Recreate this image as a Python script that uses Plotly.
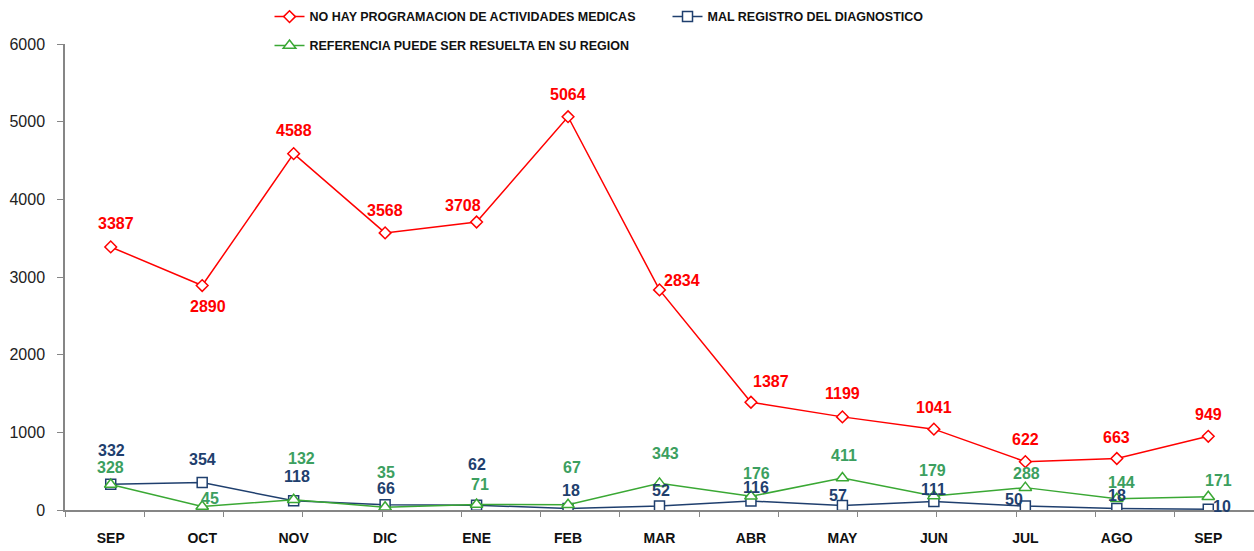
import plotly.graph_objects as go

months = ["SEP", "OCT", "NOV", "DIC", "ENE", "FEB", "MAR", "ABR", "MAY", "JUN", "JUL", "AGO", "SEP"]
red_name = "NO HAY PROGRAMACION DE ACTIVIDADES MEDICAS"
blue_name = "MAL REGISTRO DEL DIAGNOSTICO"
green_name = "REFERENCIA PUEDE SER RESUELTA EN SU REGION"
red_vals = [3387, 2890, 4588, 3568, 3708, 5064, 2834, 1387, 1199, 1041, 622, 663, 949]
blue_vals = [332, 354, 118, 66, 62, 18, 52, 116, 57, 111, 50, 18, 10]
green_vals = [328, 45, 132, 35, 71, 67, 343, 176, 411, 179, 288, 144, 171]

# label offsets (xshift, yshift) in px
red_off = [(5, 23), (6, -21), (0, 23), (0, 22), (-14, 17), (0, 22), (22, 9),
           (20, 21), (0, 23), (0, 22), (0, 22), (0, 21), (0, 22)]
blue_off = [(1, 34), (0, 23), (3, 24), (1, 16), (0, 41), (3, 18), (1, 15),
            (5, 13), (-4, 10), (0, 12), (-11, 7), (0, 13), (14, 3)]
green_off = [(0, 17), (8, 8), (8, 41), (1, 35), (3, 20), (4, 37), (6, 30),
             (6, 23), (2, 23), (-1, 26), (1, 14), (5, 16), (10, 16)]

RED = "#FF0000"
NAVY = "#1F3F6E"
GREEN_LINE = "#3AA834"
GREEN_TXT = "#3C9F60"
FONT = "Liberation Sans, Arial, sans-serif"

x_idx = list(range(len(months)))

fig = go.Figure()
fig.add_trace(go.Scatter(
    x=x_idx, y=blue_vals, name=f"<b>{blue_name}</b>", mode="lines+markers",
    line=dict(color=NAVY, width=1.5),
    marker=dict(symbol="square", size=10, color="white", line=dict(color=NAVY, width=1.5)),
    legend="legend", legendrank=2))
fig.add_trace(go.Scatter(
    x=x_idx, y=green_vals, name=f"<b>{green_name}</b>", mode="lines+markers",
    line=dict(color=GREEN_LINE, width=1.5),
    marker=dict(symbol="triangle-up", size=11, color="white", line=dict(color=GREEN_LINE, width=1.5)),
    legend="legend2"))
fig.add_trace(go.Scatter(
    x=x_idx, y=red_vals, name=f"<b>{red_name}</b>", mode="lines+markers",
    line=dict(color=RED, width=1.5),
    marker=dict(symbol="diamond", size=9, color="white", line=dict(color=RED, width=1.5)),
    legend="legend", legendrank=1))
# helper trace to activate the secondary tick-mark axis
fig.add_trace(go.Scatter(x=[0], y=[None], xaxis="x2", showlegend=False, hoverinfo="skip"))

annotations = []
for vals, offs, col in [(red_vals, red_off, RED), (blue_vals, blue_off, NAVY), (green_vals, green_off, GREEN_TXT)]:
    for i, (v, (dx, dy)) in enumerate(zip(vals, offs)):
        annotations.append(dict(
            x=i, y=v, xref="x", yref="y", text=f"<b>{v}</b>", showarrow=False,
            xshift=dx, yshift=dy, font=dict(family=FONT, size=16, color=col)))

fig.update_layout(
    width=1254, height=551,
    margin=dict(l=65, r=0, t=44, b=41, autoexpand=False),
    paper_bgcolor="white", plot_bgcolor="white",
    annotations=annotations,
    xaxis=dict(
        range=[-0.5, len(months) - 0.5], tickmode="array", tickvals=x_idx,
        ticktext=[f"<b>{m}</b>" for m in months],
        showline=True, linecolor="#868686", linewidth=1.5, ticks="",
        showgrid=False, zeroline=False, ticklabelstandoff=14,
        tickfont=dict(family=FONT, size=14, color="#111111")),
    xaxis2=dict(
        overlaying="x", range=[0, 15], dtick=1, tick0=0, ticks="outside",
        ticklen=6, tickcolor="#868686", showticklabels=False, showgrid=False,
        zeroline=False, showline=False, side="bottom"),
    yaxis=dict(
        range=[0, 6000], dtick=1000, ticks="outside", ticklen=6,
        tickcolor="#868686", showline=True, linecolor="#868686", linewidth=1.5,
        showgrid=False, zeroline=False, ticklabelstandoff=9,
        tickfont=dict(family=FONT, size=16, color="#222222")),
    legend=dict(
        orientation="h", x=0.172, y=1.058, xanchor="left", yanchor="middle",
        entrywidth=353, entrywidthmode="pixels",
        font=dict(family=FONT, size=12.5, color="#111111"),
        bgcolor="rgba(0,0,0,0)", itemwidth=30),
    legend2=dict(
        orientation="h", x=0.172, y=0.996, xanchor="left", yanchor="middle",
        font=dict(family=FONT, size=12.5, color="#111111"),
        bgcolor="rgba(0,0,0,0)", itemwidth=30),
)

fig.write_html("out.html", config={"displayModeBar": False},
               post_script="document.body.style.margin='0';")
